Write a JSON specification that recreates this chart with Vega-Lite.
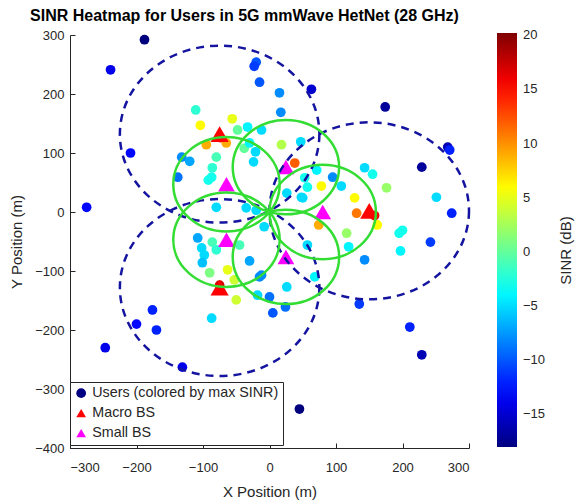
{
  "$schema": "https://vega.github.io/schema/vega-lite/v6.json",
  "autosize": {"type": "none"},
  "padding": {"left": 70, "top": 35, "right": 107, "bottom": 55},
  "width": 399,
  "height": 413,
  "background": "white",
  "config": {
    "view": {"stroke": null},
    "font": "Liberation Sans",
    "axis": {"grid": false, "domainColor": "#262626", "tickColor": "#262626", "labelColor": "#262626", "titleColor": "#262626", "labelFontSize": 13, "titleFontSize": 15, "titleFontWeight": "normal", "labelFont": "Liberation Sans", "titleFont": "Liberation Sans"}
  },
  "title": {"text": "SINR Heatmap for Users in 5G mmWave HetNet (28 GHz)", "fontSize": 16, "fontWeight": "bold", "font": "Liberation Sans", "color": "#000000", "anchor": "middle", "dx": -25, "offset": 5},
  "datasets": {
    "users": [
      {"x": -188, "y": 292, "sinr": -18}, {"x": -239, "y": 241, "sinr": -14}, {"x": -275, "y": 8, "sinr": -13},
      {"x": -209, "y": 100, "sinr": -13}, {"x": -247, "y": -230, "sinr": -14}, {"x": -200, "y": -190, "sinr": -13},
      {"x": -176, "y": -166, "sinr": -12}, {"x": -170, "y": -200, "sinr": -12}, {"x": -131, "y": -263, "sinr": -14},
      {"x": 45, "y": -334, "sinr": -18}, {"x": 174, "y": 178, "sinr": -17}, {"x": 229, "y": 76, "sinr": -17},
      {"x": 268, "y": 110, "sinr": -16}, {"x": 271, "y": 105, "sinr": -12}, {"x": 274, "y": -2, "sinr": -12},
      {"x": 242, "y": -51, "sinr": -11}, {"x": 211, "y": -195, "sinr": -12}, {"x": 229, "y": -242, "sinr": -16},
      {"x": 135, "y": -156, "sinr": -11}, {"x": 143, "y": -81, "sinr": -8}, {"x": 5, "y": -171, "sinr": -10},
      {"x": 24, "y": -161, "sinr": -9}, {"x": 0, "y": -144, "sinr": -9}, {"x": 26, "y": -127, "sinr": -5},
      {"x": 251, "y": 25, "sinr": -5}, {"x": 195, "y": -36, "sinr": -3}, {"x": 200, "y": -31, "sinr": -3},
      {"x": 197, "y": -66, "sinr": -4}, {"x": 176, "y": 41, "sinr": 2}, {"x": 116, "y": -36, "sinr": 2},
      {"x": 119, "y": -59, "sinr": -4}, {"x": 74, "y": -22, "sinr": 9}, {"x": 131, "y": -2, "sinr": 11},
      {"x": 128, "y": 24, "sinr": 6}, {"x": -8, "y": -25, "sinr": -5}, {"x": -15, "y": -110, "sinr": -8},
      {"x": 50, "y": 24, "sinr": -5}, {"x": 57, "y": -56, "sinr": -5}, {"x": 68, "y": -110, "sinr": -4},
      {"x": -80, "y": 8, "sinr": -5}, {"x": -35, "y": 7, "sinr": -5}, {"x": -20, "y": 3, "sinr": -5},
      {"x": -108, "y": -44, "sinr": -7}, {"x": -86, "y": -51, "sinr": -1}, {"x": -80, "y": -64, "sinr": -2},
      {"x": -45, "y": -56, "sinr": -1}, {"x": -102, "y": -61, "sinr": -5}, {"x": -98, "y": -73, "sinr": -5},
      {"x": -101, "y": -86, "sinr": -6}, {"x": -30, "y": -83, "sinr": -7}, {"x": -90, "y": -103, "sinr": 1},
      {"x": -63, "y": -98, "sinr": 5}, {"x": -53, "y": -115, "sinr": 4}, {"x": -50, "y": -149, "sinr": 4},
      {"x": -87, "y": -180, "sinr": -5}, {"x": -18, "y": -141, "sinr": -5}, {"x": -12, "y": -107, "sinr": -8},
      {"x": -15, "y": 220, "sinr": -10}, {"x": -20, "y": 254, "sinr": -10}, {"x": -23, "y": 247, "sinr": -11},
      {"x": -111, "y": 173, "sinr": -2}, {"x": -104, "y": 147, "sinr": 6}, {"x": -56, "y": 158, "sinr": 5},
      {"x": -48, "y": 139, "sinr": 0}, {"x": -33, "y": 144, "sinr": -4}, {"x": -12, "y": 139, "sinr": -5},
      {"x": -95, "y": 114, "sinr": 9}, {"x": -65, "y": 117, "sinr": 9}, {"x": -38, "y": 108, "sinr": 0},
      {"x": -21, "y": 102, "sinr": -5}, {"x": -30, "y": 117, "sinr": -4}, {"x": -24, "y": 85, "sinr": -5},
      {"x": -132, "y": 93, "sinr": -8}, {"x": -120, "y": 86, "sinr": -7}, {"x": -138, "y": 59, "sinr": -9},
      {"x": -80, "y": 93, "sinr": -1}, {"x": -86, "y": 75, "sinr": -2}, {"x": -87, "y": 59, "sinr": -3},
      {"x": -92, "y": 54, "sinr": -3}, {"x": 15, "y": 202, "sinr": -8}, {"x": 17, "y": 169, "sinr": -8},
      {"x": 63, "y": 208, "sinr": -15}, {"x": 18, "y": 114, "sinr": 3}, {"x": 47, "y": 119, "sinr": -5},
      {"x": 71, "y": 71, "sinr": -4}, {"x": 95, "y": 59, "sinr": -8}, {"x": 53, "y": 58, "sinr": -3},
      {"x": 143, "y": 75, "sinr": -5}, {"x": 155, "y": 64, "sinr": -3}, {"x": 78, "y": 44, "sinr": 6},
      {"x": 108, "y": 44, "sinr": -5}, {"x": 57, "y": 42, "sinr": -3}, {"x": 48, "y": 25, "sinr": -5},
      {"x": 26, "y": 32, "sinr": -5}, {"x": 38, "y": 83, "sinr": 12}, {"x": 158, "y": -6, "sinr": 16},
      {"x": 162, "y": -22, "sinr": 6}, {"x": -75, "y": -124, "sinr": 17}, {"x": -74, "y": 126, "sinr": 16}
    ],
    "macro": [
      {"x": -75, "y": 132}, {"x": 150, "y": 2}, {"x": -75, "y": -128}
    ],
    "small": [
      {"x": 80, "y": 0}, {"x": 24.7, "y": 76.1}, {"x": -64.7, "y": 47.0}, {"x": -64.7, "y": -47.0}, {"x": 24.7, "y": -76.1}
    ]
  },
  "resolve": {"axis": {"y": "independent"}},
  "encoding": {
    "x": {"field": "x", "type": "quantitative", "scale": {"domain": [-300, 300], "nice": false, "zero": false},
      "axis": {"title": "X Position (m)", "values": [-300, -200, -100, 0, 100, 200, 300], "tickSize": -5, "labelPadding": 18, "titlePadding": 10}},
    "y": {"field": "y", "type": "quantitative", "scale": {"domain": [-400, 300], "nice": false, "zero": false}, "axis": null}
  },
  "layer": [
    {
      "data": {"name": "users"},
      "mark": {"type": "point", "filled": true, "opacity": 1, "size": 95},
      "encoding": {
        "y": {"field": "y", "type": "quantitative", "scale": {"domain": [-400, 300], "nice": false, "zero": false},
          "axis": {"orient": "left", "title": "Y Position (m)", "values": [-400, -300, -200, -100, 0, 100, 200, 300], "tickSize": -5, "labelPadding": 11, "titlePadding": 10}},
        "color": {"field": "sinr", "type": "quantitative",
          "scale": {"domain": [-18, -13.225, -8.45, -3.675, 1.1, 5.875, 10.65, 15.425, 20.2], "range": ["#00007F", "#0000FF", "#007FFF", "#00FFFF", "#7FFF7F", "#FFFF00", "#FF7F00", "#FF0000", "#7F0000"], "interpolate": "rgb"},
          "legend": {"orient": "none", "legendX": 427, "legendY": -2, "direction": "vertical", "gradientLength": 414, "gradientThickness": 20, "gradientStrokeWidth": 0, "values": [-15, -10, -5, 0, 5, 10, 15, 20], "labelFontSize": 13, "labelColor": "#262626", "labelOffset": 6, "labelBaseline": "middle", "title": null}},
        "shape": {"datum": "Users (colored by max SINR)", "type": "nominal",
          "scale": {"domain": ["Users (colored by max SINR)", "Macro BS", "Small BS"], "range": ["circle", "triangle-up", "triangle-up"]},
          "legend": {"orient": "none", "legendX": 0, "legendY": 347, "title": null, "strokeColor": "#262626", "fillColor": "white", "padding": 4, "labelFontSize": 14.3, "labelColor": "#262626", "labelLimit": 400, "symbolSize": 95, "rowPadding": 5,
            "symbolFillColor": {"expr": "datum.value === 'Macro BS' ? '#FF0000' : datum.value === 'Small BS' ? '#FF00FF' : '#000080'"},
            "symbolStrokeWidth": 0}}
      }
    },
    {
      "data": {"name": "macro"},
      "mark": {"type": "point", "filled": true, "opacity": 1, "size": 330, "color": "#FF0000"},
      "encoding": {"shape": {"datum": "Macro BS", "type": "nominal"}}
    },
    {
      "data": {"name": "small"},
      "mark": {"type": "point", "filled": true, "opacity": 1, "size": 280, "color": "#FF00FF"},
      "encoding": {"shape": {"datum": "Small BS", "type": "nominal"}}
    },
    {
      "data": {"name": "macro"},
      "mark": {"type": "point", "filled": false, "opacity": 1, "size": 39800, "stroke": "#1414A0", "strokeWidth": 2.5, "strokeDash": [8, 6],
        "shape": "M 1 0 C 1 0.490 0.552 0.887 0 0.887 C -0.552 0.887 -1 0.490 -1 0 C -1 -0.490 -0.552 -0.887 0 -0.887 C 0.552 -0.887 1 -0.490 1 0 Z"},
      "encoding": {}
    },
    {
      "data": {"name": "small"},
      "mark": {"type": "point", "filled": false, "opacity": 1, "size": 11321, "stroke": "#33DD33", "strokeWidth": 2.5,
        "shape": "M 1 0 C 1 0.490 0.552 0.887 0 0.887 C -0.552 0.887 -1 0.490 -1 0 C -1 -0.490 -0.552 -0.887 0 -0.887 C 0.552 -0.887 1 -0.490 1 0 Z"},
      "encoding": {}
    },
    {
      "data": {"name": "small"},
      "mark": {"type": "point", "opacity": 0},
      "encoding": {
        "y": {"field": "y", "type": "quantitative", "scale": {"domain": [-400, 300], "nice": false, "zero": false},
          "axis": {"orient": "right", "title": "SINR (dB)", "labels": false, "ticks": false, "domain": false, "titleAngle": -90, "titleX": 96, "titleY": 215, "titleAlign": "center", "titleBaseline": "middle", "titleFontSize": 15}}
      }
    }
  ]
}
